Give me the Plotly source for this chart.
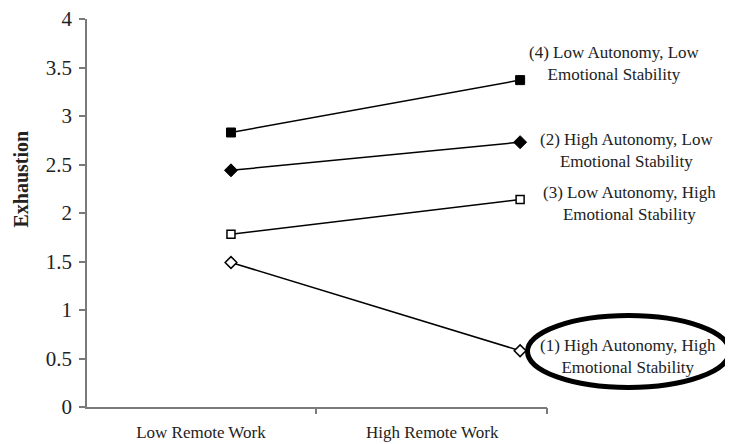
import plotly.graph_objects as go

# ---- data ----
conditions = ["Low Remote Work", "High Remote Work"]
x_pos = [0, 1]
series_names = [
    "(4) Low Autonomy, Low<br>Emotional Stability",
    "(2) High Autonomy, Low<br>Emotional Stability",
    "(3) Low Autonomy, High<br>Emotional Stability",
    "(1) High Autonomy, High<br>Emotional Stability",
]
low_aut_low_es = [2.83, 3.37]
high_aut_low_es = [2.44, 2.73]
low_aut_high_es = [1.78, 2.14]
high_aut_high_es = [1.49, 0.58]
y_ticks = [0, 0.5, 1, 1.5, 2, 2.5, 3, 3.5, 4]
y_tick_text = ["0", "0.5", "1", "1.5", "2", "2.5", "3", "3.5", "4"]
y_title = "Exhaustion"

series_values = [low_aut_low_es, high_aut_low_es, low_aut_high_es, high_aut_high_es]
markers = [
    dict(symbol="square", size=9, color="black", line=dict(color="black", width=1)),
    dict(symbol="diamond", size=10, color="black", line=dict(color="black", width=1)),
    dict(symbol="square", size=8, color="white", line=dict(color="black", width=1.5)),
    dict(symbol="diamond", size=9, color="white", line=dict(color="black", width=1.5)),
]

FONT = "Liberation Serif, Times New Roman, serif"
TXT = "#222222"

fig = go.Figure()
for vals, mk in zip(series_values, markers):
    fig.add_trace(go.Scatter(
        x=x_pos, y=vals, mode="lines+markers",
        line=dict(color="black", width=1.5),
        marker=mk, showlegend=False, hoverinfo="skip",
    ))

# invisible trace so the boundary-tick axis is drawn
fig.add_trace(go.Scatter(x=[0], y=[0], xaxis="x2", mode="markers",
                         marker=dict(opacity=0), showlegend=False, hoverinfo="skip"))

x_range = [-0.498, 1.093]
label_pos = [-0.104, 0.696]
boundary_pos = [-0.505, 0.294, 1.093]

# page offset from default body margin
OFF = 8
W, H = 733 - OFF, 444 - OFF
L, T = 87 - OFF, 19 - OFF
B = H - (407 - OFF)
R = W - (547 - OFF)
pw, ph = W - L - R, H - T - B

def px(xp):
    return (xp - OFF - L) / pw

def py(yp):
    return (H - B - (yp - OFF)) / ph

fig.update_layout(
    width=W, height=H,
    margin=dict(l=L, r=R, t=T, b=B, autoexpand=False),
    paper_bgcolor="white", plot_bgcolor="white",
    font=dict(family=FONT, color=TXT, size=17),
    xaxis=dict(
        range=x_range, tickvals=label_pos, ticktext=conditions,
        ticks="", showgrid=False, zeroline=False, automargin=False,
        showline=True, linecolor="#7a7a7a", linewidth=1.5,
        tickfont=dict(size=17, family=FONT, color=TXT),
        ticklabelstandoff=9, ticklabeloverflow="allow",
    ),
    xaxis2=dict(
        range=x_range, overlaying="x", side="bottom", anchor="y",
        tickvals=boundary_pos, ticks="outside", ticklen=6, tickwidth=1.5,
        tickcolor="#7a7a7a", showticklabels=False, showgrid=False,
        zeroline=False, showline=False, automargin=False,
    ),
    yaxis=dict(
        range=[0, 4], tickvals=y_ticks, ticktext=y_tick_text,
        ticks="outside", ticklen=6, tickwidth=1.5, tickcolor="#7a7a7a",
        showline=True, linecolor="#7a7a7a", linewidth=1.5,
        showgrid=False, zeroline=False, automargin=False,
        tickfont=dict(size=21, family=FONT, color=TXT),
        ticklabelstandoff=3, ticklabeloverflow="allow",
    ),
)

# y-axis title (placed off-centre as in the original)
fig.add_annotation(
    text="<b>" + y_title + "</b>", xref="paper", yref="paper",
    x=px(20.5), y=py(179), xanchor="center", yanchor="middle",
    textangle=-90, showarrow=False,
    font=dict(size=20, family=FONT, color=TXT),
)

# right-side labels
label_centers = [(614, 63), (626, 150), (629, 203), (628, 356)]
for name, (cx, cy) in zip(series_names, label_centers):
    fig.add_annotation(
        text=name, xref="paper", yref="paper", x=px(cx), y=py(cy),
        xanchor="center", yanchor="middle", showarrow=False, align="center",
        font=dict(size=17, family=FONT, color=TXT),
    )

# highlight ellipse around series (1)
fig.add_shape(type="circle", xref="paper", yref="paper",
              x0=px(527.5), x1=px(729.5), y0=py(387.5), y1=py(315.5),
              line=dict(color="black", width=5), fillcolor="rgba(0,0,0,0)")

fig.write_html("out.html")
